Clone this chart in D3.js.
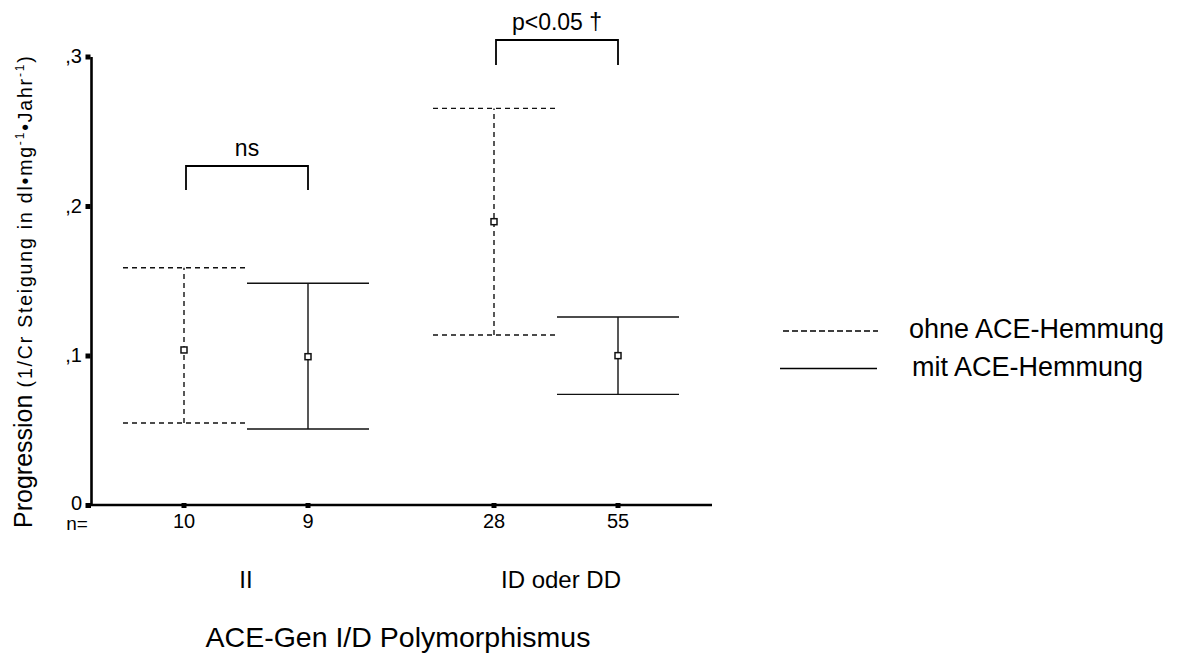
<!DOCTYPE html>
<html>
<head>
<meta charset="utf-8">
<script src="https://cdn.jsdelivr.net/npm/d3@7"></script>
<style>
  body { margin: 0; background: #fff; }
  text { font-family: "Liberation Sans", Arial, sans-serif; fill: #000; }
</style>
</head>
<body>
<svg id="chart" width="1183" height="655"></svg>
<script>
// data
const groups = ["II", "ID oder DD"];
const treatments = ["ohne", "mit"];
const legendLabels = ["ohne ACE-Hemmung", "mit ACE-Hemmung"];
const nOhne = [10, 28];
const nMit = [9, 55];
const meanOhne = [0.1037, 0.1895];
const lowOhne = [0.0548, 0.1137];
const highOhne = [0.1587, 0.2653];
const meanMit = [0.0992, 0.0999];
const lowMit = [0.0508, 0.0740];
const highMit = [0.1483, 0.1258];
const yTicks = [0, 0.1, 0.2, 0.3];
const sigLabels = ["ns", "p<0.05 \u2020"];

let svg = d3.select("#chart");

// flatten into one row per bar
let rows = [];
groups.forEach((g, i) => {
  rows.push({group: g, treat: "ohne", key: g + "|ohne", n: nOhne[i], mean: meanOhne[i], low: lowOhne[i], high: highOhne[i]});
  rows.push({group: g, treat: "mit", key: g + "|mit", n: nMit[i], mean: meanMit[i], low: lowMit[i], high: highMit[i]});
});

const y = d3.scaleLinear().domain([0, 0.3]).range([505, 56.5]);
const xGroup = d3.scalePoint().domain(groups).range([246, 556]);
const xSub = d3.scalePoint().domain(treatments).range([-62, 62]);
const xOf = d => xGroup(d.group) + xSub(d.treat);
const xKey = d3.scaleOrdinal().domain(rows.map(d => d.key)).range(rows.map(xOf));

const capHalf = 61;
const dash = "5,4";

// y axis
let yAxis = svg.append("g").attr("transform", "translate(91,0)")
  .call(d3.axisLeft(y).tickValues(yTicks).tickSize(0).tickPadding(9)
    .tickFormat(d => d === 0 ? "0" : d3.format(".1f")(d).replace("0.", ",")));
yAxis.attr("font-size", null).attr("font-family", null);
yAxis.select(".domain").attr("stroke", "#000").attr("stroke-width", 2.6);
yAxis.selectAll("text").style("font-size", "20px").attr("dy", d => d === 0 ? "0.2em" : "0.32em");
yAxis.selectAll(".tick").append("rect")
  .attr("x", -5.5).attr("y", -2.5).attr("width", 5).attr("height", 5).attr("fill", "#000");

// x axis
let xAxis = svg.append("g").attr("transform", "translate(0,505)");
xAxis.append("line").attr("x1", 90).attr("x2", 712).attr("stroke", "#000").attr("stroke-width", 2.6);
xAxis.append("rect").attr("x", 86).attr("y", -2).attr("width", 5).attr("height", 5).attr("fill", "#000");
let xt = xAxis.selectAll(".xtick").data(rows).enter().append("g")
  .attr("transform", d => "translate(" + xKey(d.key) + ",0)");
xt.append("rect").attr("x", -2.5).attr("y", -2).attr("width", 5).attr("height", 5).attr("fill", "#000");
xt.append("text").attr("y", 23).attr("text-anchor", "middle").style("font-size", "20px").text(d => d.n);
xAxis.append("text").attr("x", 77).attr("y", 25).attr("text-anchor", "middle").style("font-size", "19px").text("n=");

// group labels
svg.selectAll(".glabel").data(groups).enter().append("text")
  .attr("x", d => xGroup(d) + (d === "II" ? 0 : 5)).attr("y", 588)
  .attr("text-anchor", "middle").style("font-size", "24px").text(d => d);

svg.append("text").attr("x", 398).attr("y", 647).attr("text-anchor", "middle")
  .style("font-size", "28.5px").text("ACE-Gen I/D Polymorphismus");

// y label
let yl = svg.append("text").attr("transform", "translate(32,528) rotate(-90)");
yl.append("tspan").style("font-size", "25px").text("Progression");
let sub = yl.append("tspan").style("letter-spacing", "1.8px");
sub.append("tspan").style("font-size", "19.5px").text(" (1/Cr Steigung in dl\u2022mg");
sub.append("tspan").style("font-size", "12px").attr("dy", -8).text("-1");
sub.append("tspan").style("font-size", "19.5px").attr("dy", 8).text("\u2022Jahr");
sub.append("tspan").style("font-size", "12px").attr("dy", -8).text("-1");
sub.append("tspan").style("font-size", "19.5px").attr("dy", 8).text(")");

// error bars
let bars = svg.selectAll(".bar").data(rows).enter().append("g")
  .attr("stroke", "#111").attr("stroke-width", 1.4).attr("fill", "none")
  .attr("stroke-dasharray", d => d.treat === "ohne" ? dash : null);
bars.append("line")
  .attr("x1", d => xOf(d)).attr("x2", d => xOf(d))
  .attr("y1", d => y(d.low)).attr("y2", d => y(d.high));
bars.append("line")
  .attr("x1", d => xOf(d) - capHalf).attr("x2", d => xOf(d) + capHalf)
  .attr("y1", d => y(d.high)).attr("y2", d => y(d.high));
bars.append("line")
  .attr("x1", d => xOf(d) - capHalf).attr("x2", d => xOf(d) + capHalf)
  .attr("y1", d => y(d.low)).attr("y2", d => y(d.low));
bars.append("rect")
  .attr("x", d => xOf(d) - 3).attr("y", d => y(d.mean) - 3)
  .attr("width", 6).attr("height", 6)
  .attr("fill", "#fff").attr("stroke-dasharray", "none").attr("stroke-width", 1.5);

// significance brackets (annotation heights in pixels)
const bracketTop = [166, 40];
const bracketLeg = [190, 65];
groups.forEach((g, i) => {
  let x1 = xGroup(g) + xSub("ohne") + 2;
  let x2 = xGroup(g) + xSub("mit");
  svg.append("path")
    .attr("d", d3.line()([[x1, bracketLeg[i]], [x1, bracketTop[i]], [x2, bracketTop[i]], [x2, bracketLeg[i]]]))
    .attr("fill", "none").attr("stroke", "#000").attr("stroke-width", 1.8);
  svg.append("text").attr("x", (x1 + x2) / 2).attr("y", bracketTop[i] - 10)
    .attr("text-anchor", "middle").style("font-size", "23px").text(sigLabels[i]);
});

// legend
let leg = svg.append("g");
treatments.forEach((t, i) => {
  let ly = 331 + i * 37.5;
  leg.append("line").attr("x1", 783 - i * 3).attr("x2", 878 - i * 1).attr("y1", ly).attr("y2", ly)
    .attr("stroke", "#000").attr("stroke-width", 1.6)
    .attr("stroke-dasharray", t === "ohne" ? "6,3" : null);
  leg.append("text").attr("x", 909 + i * 3).attr("y", ly + 7)
    .style("font-size", "27px").text(legendLabels[i]);
});
</script>
</body>
</html>
